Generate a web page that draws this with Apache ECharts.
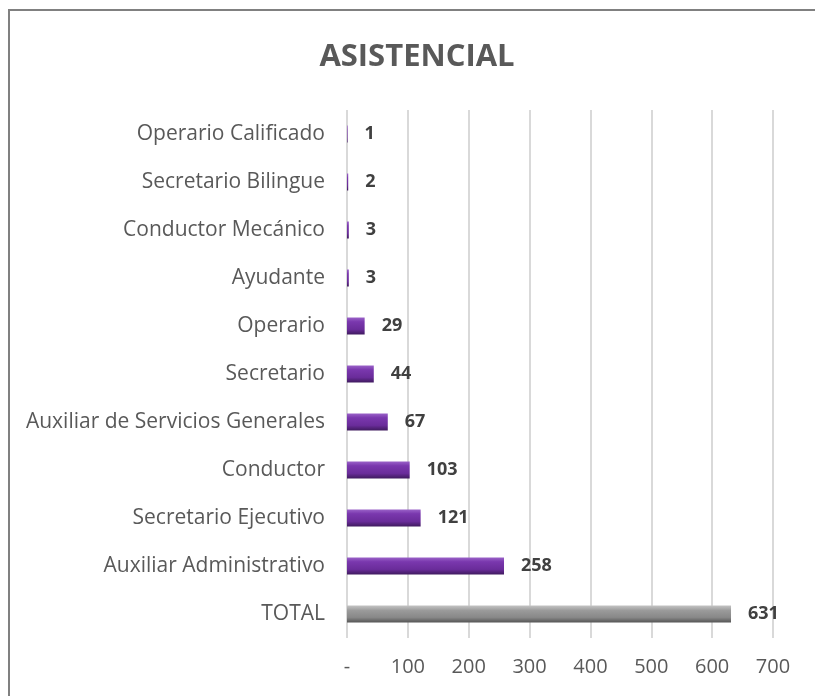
<!DOCTYPE html>
<html>
<head>
<meta charset="utf-8">
<script src="https://cdn.jsdelivr.net/npm/echarts@6/dist/echarts.min.js"></script>
<style>
  html, body { margin: 0; padding: 0; background: #fff; }
  #chart { width: 815px; height: 696px; }
</style>
</head>
<body>
<div id="chart"></div>
<script>
// categories top to bottom
const categories = [
    'Operario Calificado', 'Secretario Bilingue', 'Conductor Mecánico', 'Ayudante',
    'Operario', 'Secretario', 'Auxiliar de Servicios Generales', 'Conductor',
    'Secretario Ejecutivo', 'Auxiliar Administrativo', 'TOTAL'
];
const values = [1, 2, 3, 3, 29, 44, 67, 103, 121, 258, 631];
const xTicks = [0, 100, 200, 300, 400, 500, 600, 700];

const chart = echarts.init(document.getElementById('chart'));

// bevel look: light top edge, dark bottom edge
const purple = new echarts.graphic.LinearGradient(0, 0, 0, 1, [
    { offset: 0, color: '#9a62c8' },
    { offset: 0.25, color: '#7a38ae' },
    { offset: 0.7, color: '#6a2c9a' },
    { offset: 1, color: '#3f1a5e' }
]);
const grey = new echarts.graphic.LinearGradient(0, 0, 0, 1, [
    { offset: 0, color: '#c4c4c4' },
    { offset: 0.3, color: '#9a9a9a' },
    { offset: 0.7, color: '#888888' },
    { offset: 1, color: '#555555' }
]);

const option = {
    animation: false,
    title: {
        text: 'ASISTENCIAL',
        left: 412,
        textAlign: 'center',
        top: 37,
        textStyle: { fontFamily: 'Open Sans', fontWeight: 'bold', fontSize: 31, color: '#595959' }
    },
    graphic: [{
        type: 'rect',
        shape: { x: 9, y: 10, width: 900, height: 800 },
        style: { fill: 'none', stroke: '#808080', lineWidth: 2 }
    }],
    grid: { left: 347, right: 42, top: 110, bottom: 58 },
    xAxis: {
        type: 'value',
        min: 0,
        max: 700,
        interval: 100,
        axisLine: { show: false },
        axisTick: { show: false },
        splitLine: { lineStyle: { color: '#d9d9d9', width: 2 } },
        axisLabel: {
            margin: 19,
            fontFamily: 'Open Sans',
            fontSize: 20,
            color: '#595959',
            formatter: v => (v === 0 ? '-' : (xTicks.includes(v) ? String(v) : ''))
        }
    },
    yAxis: {
        type: 'category',
        data: categories,
        inverse: true,
        axisLine: { show: false },
        axisTick: { show: false },
        axisLabel: { margin: 22, fontFamily: 'Open Sans', fontSize: 21, color: '#595959' }
    },
    series: [{
        type: 'bar',
        barWidth: 17,
        data: values.map((v, i) => ({
            value: v,
            itemStyle: { color: categories[i] === 'TOTAL' ? grey : purple }
        })),
        label: {
            show: true,
            position: 'right',
            distance: 17,
            fontFamily: 'Open Sans',
            fontWeight: 'bold',
            fontSize: 18,
            color: '#404040'
        }
    }]
};

chart.setOption(option);
</script>
</body>
</html>
